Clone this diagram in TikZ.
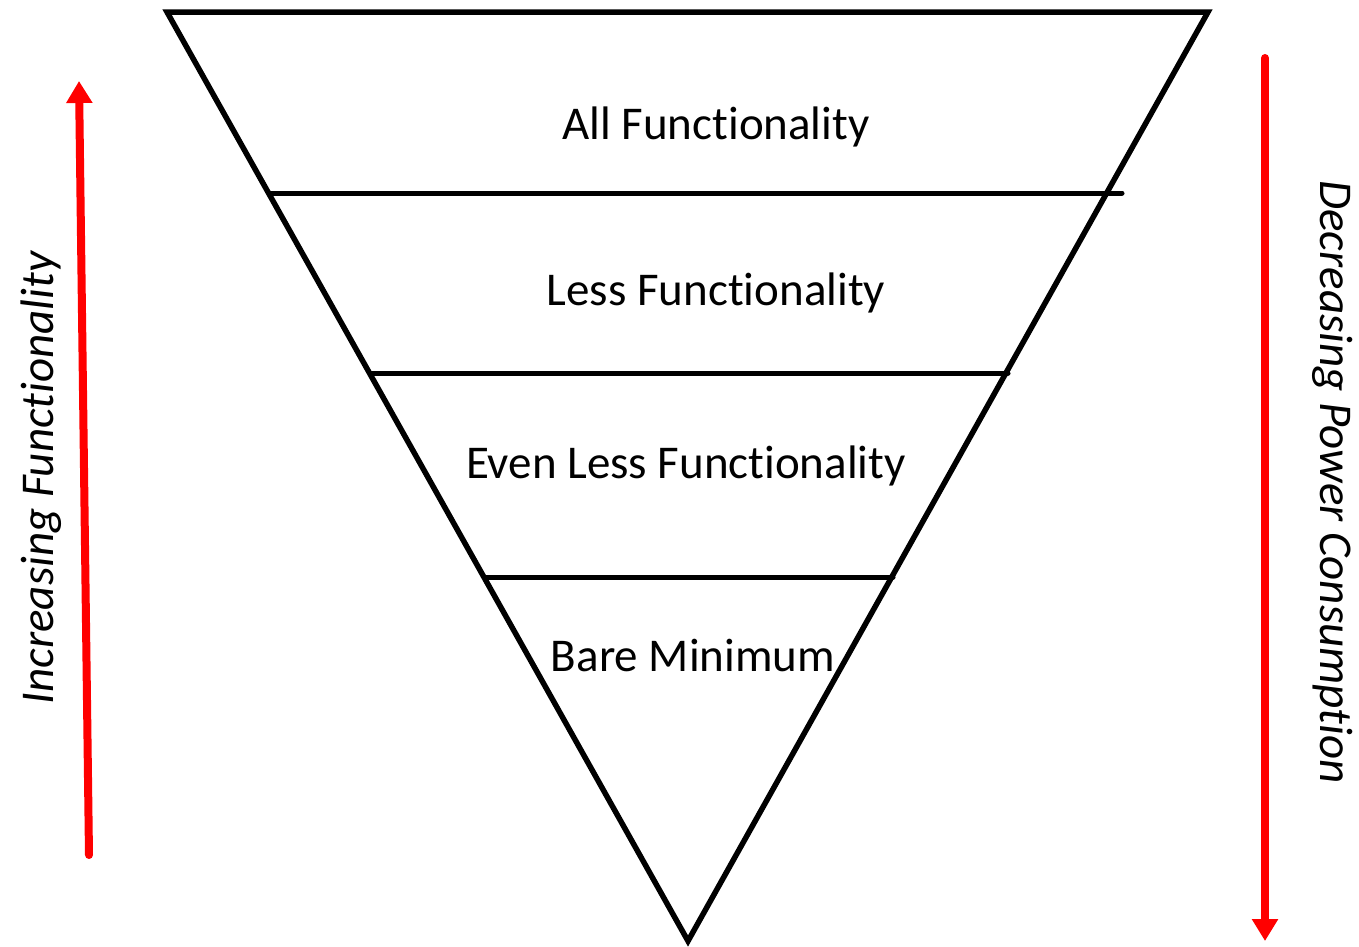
\documentclass[tikz,border=0pt]{standalone}
\usepackage{fontspec}
\setmainfont{Carlito}[Ligatures=NoCommon]
\usetikzlibrary{arrows.meta}
\tikzstyle{funnel} = [line width=5.5pt, line join=miter, black]
\tikzstyle{divider} = [line width=5pt, line cap=round, black]
\tikzstyle{tiertext} = [font=\fontsize{47}{56}\selectfont, anchor=base, inner sep=0pt]
\tikzstyle{sidetext} = [font=\fontsize{47}{56}\selectfont\itshape, anchor=base, inner sep=0pt]
\tikzstyle{redArrow} = [line width=8pt, red, line cap=round,
    -{Triangle[width=25pt,length=22pt]}]

\begin{document}
\begin{tikzpicture}[x=1pt,y=-1pt]
\useasboundingbox (0,0) rectangle (1359,946);

\coordinate (topleft) at (167,12);
\coordinate (topright) at (1208,12);
\coordinate (apex) at (688,941);
\draw[funnel] (topleft) -- (topright) -- (apex) -- cycle;

\coordinate (cutonel) at (270,193);
\coordinate (cutoner) at (1122,193);
\coordinate (cuttwol) at (372,373);
\coordinate (cuttwor) at (1008,373);
\coordinate (cutthreel) at (486,577);
\coordinate (cutthreer) at (893,577);
\draw[divider] (cutonel) -- (cutoner);
\draw[divider] (cuttwol) -- (cuttwor);
\draw[divider] (cutthreel) -- (cutthreer);

\node[tiertext] (tierone) at (716,139) {All Functionality};
\node[tiertext] (tiertwo) at (716,305) {Less Functionality};
\node[tiertext] (tierthree) at (686,478) {Even Less Functionality};
\node[tiertext] (tierfour) at (693,671) {Bare Minimum};

\coordinate (funcstart) at (89,855);
\coordinate (funcend) at (79,81);
\draw[redArrow] (funcstart) -- (funcend);
\node[sidetext, rotate=90] (funclabel) at (53,478) {Increasing Functionality};

\coordinate (powerstart) at (1265,58);
\coordinate (powerend) at (1265,941);
\draw[redArrow] (powerstart) -- (powerend);
\node[sidetext, rotate=-90] (powerlabel) at (1320,482) {Decreasing Power Consumption};
\end{tikzpicture}
\end{document}
